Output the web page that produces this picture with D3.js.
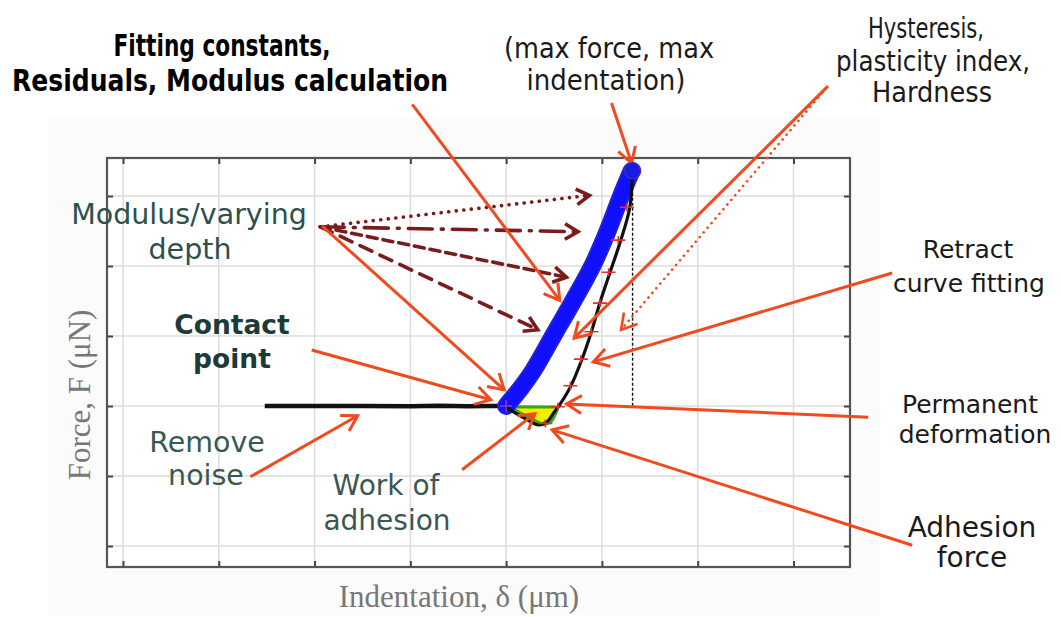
<!DOCTYPE html>
<html>
<head>
<meta charset="utf-8">
<script src="https://cdn.jsdelivr.net/npm/d3@7"></script>
<style>
  body { margin: 0; background: #fff; }
</style>
</head>
<body>
<svg id="chart" width="1061" height="617"></svg>
<script>
// axis units: one unit = one grid step (no numeric labels on the original)
const xTicks = [0, 1, 2, 3, 4, 5, 6, 7];
const yTicks = [0, 1, 2, 3, 4, 5];

// approach (noise baseline before contact)
const approachX = [1.48, 2.0, 2.5, 3.0, 3.3, 3.6, 3.8, 4.0];
const approachY = [2.0, 2.0, 2.0, 1.995, 2.005, 1.995, 2.0, 2.0];

// loading curve (blue)
const loadX = [4.0, 4.15, 4.28, 4.49, 4.70, 4.90, 5.06, 5.20, 5.31];
const loadY = [2.0, 2.25, 2.5, 3.0, 3.5, 4.0, 4.5, 5.0, 5.36];

// unloading / retract curve (black)
const retractX = [5.32, 5.29, 5.19, 5.08, 4.98, 4.89, 4.79, 4.67, 4.56, 4.49, 4.43, 4.34, 4.20, 4.06, 3.99];
const retractY = [5.36, 4.83, 4.34, 3.89, 3.48, 3.06, 2.66, 2.27, 2.02, 1.89, 1.78, 1.73, 1.82, 1.93, 1.99];

// retract fit markers (red +)
const fitX = [5.26, 5.17, 5.07, 4.98, 4.89, 4.78, 4.67, 4.54, 4.41];
const fitY = [4.84, 4.37, 3.91, 3.47, 3.06, 2.67, 2.29, 1.99, 1.75];

// work of adhesion region
const adhesionX = [4.02, 4.15, 4.30, 4.40, 4.47, 4.52, 4.54];
const adhesionY = [1.99, 1.90, 1.79, 1.74, 1.78, 1.90, 1.985];

const maxPoint = [5.32, 5.36];
const contactPoint = [4.0, 2.0];

const svg = d3.select('#chart');

const x = d3.scaleLinear().domain([-0.167, 7.59]).range([107, 850]);
const y = d3.scaleLinear().domain([-0.3, 5.543]).range([567, 158]);

// faint page panel behind the plot
svg.append('rect').attr('x', 48).attr('y', 118).attr('width', 832).attr('height', 497).attr('fill', '#fbfbfb');
svg.append('rect').attr('x', 107).attr('y', 158).attr('width', 743).attr('height', 409).attr('fill', '#fff');

// grid
const grid = svg.append('g');
grid.selectAll('.gx').data(xTicks).enter().append('line')
  .attr('x1', d => x(d)).attr('x2', d => x(d)).attr('y1', 158).attr('y2', 567)
  .attr('stroke', '#dcdcdc').attr('stroke-width', 1.5);
grid.selectAll('.gy').data(yTicks).enter().append('line')
  .attr('y1', d => y(d)).attr('y2', d => y(d)).attr('x1', 107).attr('x2', 850)
  .attr('stroke', '#dcdcdc').attr('stroke-width', 1.5);

// inward ticks on all four sides
const tickLen = -6;
const axes = [
  [d3.axisBottom(x).tickValues(xTicks), 'translate(0,567)'],
  [d3.axisTop(x).tickValues(xTicks), 'translate(0,158)'],
  [d3.axisLeft(y).tickValues(yTicks), 'translate(107,0)'],
  [d3.axisRight(y).tickValues(yTicks), 'translate(850,0)']
];
axes.forEach(([ax, tr]) => {
  const g = svg.append('g').attr('transform', tr)
    .call(ax.tickSize(tickLen).tickFormat(''));
  g.select('.domain').remove();
  g.selectAll('line').attr('stroke', '#444').attr('stroke-width', 2);
});
svg.append('rect').attr('x', 107).attr('y', 158).attr('width', 743).attr('height', 409)
  .attr('fill', 'none').attr('stroke', '#555').attr('stroke-width', 2.2);

const line = d3.line().x(d => x(d[0])).y(d => y(d[1]));
const curve = d3.line().x(d => x(d[0])).y(d => y(d[1])).curve(d3.curveCatmullRom.alpha(0.5));
const zip = (a, b) => a.map((v, i) => [v, b[i]]);

// dashed vertical from max point to contact level
svg.append('path')
  .attr('d', line([[maxPoint[0], maxPoint[1] - 0.1], [maxPoint[0], contactPoint[1]]]))
  .attr('stroke', '#111').attr('stroke-width', 1.4).attr('stroke-dasharray', '3,2').attr('fill', 'none');

// work of adhesion area
svg.append('path')
  .attr('d', curve(zip(adhesionX, adhesionY)) + 'Z')
  .attr('fill', '#f2ee00').attr('stroke', '#3aa51a').attr('stroke-width', 3)
  .attr('stroke-linejoin', 'round');

// approach
svg.append('path')
  .attr('d', line(zip(approachX, approachY)))
  .attr('stroke', '#111').attr('stroke-width', 4.5).attr('fill', 'none');

// loading curve
svg.append('path')
  .attr('d', curve(zip(loadX, loadY)))
  .attr('stroke', '#2222d8').attr('stroke-width', 18).attr('stroke-linecap', 'round')
  .attr('stroke-linejoin', 'round').attr('fill', 'none');
svg.append('path')
  .attr('d', curve(zip(loadX, loadY)))
  .attr('stroke', '#1010ff').attr('stroke-width', 14).attr('stroke-linecap', 'round')
  .attr('stroke-linejoin', 'round').attr('fill', 'none');

// retract curve
svg.append('path')
  .attr('d', curve(zip(retractX, retractY)))
  .attr('stroke', '#111').attr('stroke-width', 3.2).attr('fill', 'none');

// red + markers
svg.selectAll('.fit').data(zip(fitX, fitY)).enter().append('path')
  .attr('transform', d => `translate(${x(d[0])},${y(d[1])})`)
  .attr('d', 'M-7,0H7M0,-4V4')
  .attr('stroke', '#e0322a').attr('stroke-width', 1.6).attr('fill', 'none');
svg.append('path')
  .attr('transform', `translate(${x(contactPoint[0])},${y(contactPoint[1])})`)
  .attr('d', 'M-6,0H6M0,-6V6')
  .attr('stroke', '#9040c0').attr('stroke-width', 1.5);

// ---- annotation arrows (axis units) ----
const orange = '#f04a1e', maroon = '#7a1c1c';
const arrowsOrange = [
  [3.02, 6.31, 4.56, 3.51, null],   // fitting constants
  [5.10, 6.33, 5.31, 5.47, null],   // max force
  [7.36, 6.57, 4.71, 2.97, null],   // hysteresis
  [7.34, 6.54, 5.20, 3.09, '0.1,6'],// hysteresis dotted
  [8.03, 3.90, 4.91, 2.63, null],   // retract curve fitting
  [7.78, 1.84, 4.63, 2.03, null],   // permanent deformation
  [8.24, 0.01, 4.48, 1.66, null],   // adhesion force
  [3.54, 1.09, 4.30, 1.89, null],   // work of adhesion
  [1.33, 0.99, 2.45, 1.86, null],   // remove noise
  [1.97, 2.80, 3.84, 2.09, null],   // contact point
  [2.08, 4.57, 3.98, 2.23, null]    // modulus solid
];
const arrowsMaroon = [
  [2.06, 4.56, 4.87, 5.01, '0.1,7.5'],
  [2.06, 4.56, 4.75, 4.49, '24,9,2,9'],
  [2.06, 4.56, 4.63, 3.84, '10,6'],
  [2.06, 4.56, 4.33, 3.09, '13,9']
];

function arrow(a, color, width, head) {
  const [x1, y1, x2, y2, dash] = a;
  const X1 = x(x1), Y1 = y(y1), X2 = x(x2), Y2 = y(y2);
  const g = svg.append('g');
  g.append('line').attr('x1', X1).attr('y1', Y1).attr('x2', X2).attr('y2', Y2)
    .attr('stroke', color).attr('stroke-width', width)
    .attr('stroke-linecap', dash ? 'round' : 'butt')
    .attr('stroke-dasharray', dash || null);
  const ang = Math.atan2(Y2 - Y1, X2 - X1) * 180 / Math.PI;
  g.append('path')
    .attr('transform', `translate(${X2},${Y2}) rotate(${ang})`)
    .attr('d', `M${-head},${-head * 0.6}L0,0L${-head},${head * 0.6}`)
    .attr('stroke', color).attr('stroke-width', width).attr('fill', 'none')
    .attr('stroke-linejoin', 'miter');
}
arrowsMaroon.forEach(a => arrow(a, maroon, 3.6, 13));
arrowsOrange.forEach(a => arrow(a, orange, a[4] ? 2.6 : 3, 15));

// max point dot
svg.append('circle').attr('cx', x(maxPoint[0])).attr('cy', y(maxPoint[1])).attr('r', 8)
  .attr('fill', '#1a1ae8').attr('stroke', '#3030c0').attr('stroke-width', 1.5);

// ---- labels ----
const narrow = '"Liberation Sans Narrow", "DejaVu Sans Condensed", Arial, sans-serif';
const sans = '"DejaVu Sans", Verdana, sans-serif';
const labels = [
  ['Fitting constants,', 222, 56, 30, 'bold', '#000', narrow, 217],
  ['Residuals, Modulus calculation', 230, 91, 30, 'bold', '#000', narrow, 436],
  ['(max force, max', 609, 58, 28, 'normal', '#1a1a1a', narrow, 210],
  ['indentation)', 606, 90, 28, 'normal', '#1a1a1a', narrow, 159],
  ['Hysteresis,', 926, 38, 28, 'normal', '#1a1a1a', narrow, 116],
  ['plasticity index,', 933, 71, 28, 'normal', '#1a1a1a', narrow, 194],
  ['Hardness', 932, 102, 28, 'normal', '#1a1a1a', narrow, 120],
  ['Modulus/varying', 189, 224, 28.5, 'normal', '#2e504c', sans, null],
  ['depth', 190, 259, 28.5, 'normal', '#2e504c', sans, null],
  ['Contact', 232, 334, 26.5, 'bold', '#1c3a38', sans, null],
  ['point', 232, 368, 26.5, 'bold', '#1c3a38', sans, null],
  ['Remove', 207, 452, 28.5, 'normal', '#3a5853', sans, null],
  ['noise', 206, 485, 28.5, 'normal', '#3a5853', sans, null],
  ['Work of', 386, 495, 28, 'normal', '#3a5853', sans, null],
  ['adhesion', 387, 530, 28, 'normal', '#3a5853', sans, null],
  ['Retract', 968, 258, 25, 'normal', '#1a1a1a', sans, null],
  ['curve fitting', 969, 292, 25, 'normal', '#1a1a1a', sans, null],
  ['Permanent', 970, 413, 25, 'normal', '#1a1a1a', sans, null],
  ['deformation', 975, 443, 25, 'normal', '#1a1a1a', sans, null],
  ['Adhesion', 972, 537, 28, 'normal', '#1a1a1a', sans, null],
  ['force', 972, 567, 28, 'normal', '#1a1a1a', sans, null]
];
labels.forEach(([t, cx, by, size, weight, color, fam, len]) => {
  const el = svg.append('text').attr('x', cx).attr('y', by)
    .attr('text-anchor', 'middle').attr('font-family', fam)
    .attr('font-size', size).attr('font-weight', weight).attr('fill', color).text(t);
  if (len) el.attr('textLength', len).attr('lengthAdjust', 'spacingAndGlyphs');
});

// axis titles
const serif = '"Liberation Serif", "DejaVu Serif", serif';
svg.append('text').attr('x', 459).attr('y', 607).attr('text-anchor', 'middle')
  .attr('font-family', serif).attr('font-size', 31).attr('fill', '#777')
  .text('Indentation, δ (μm)');
svg.append('text').attr('transform', 'translate(90,395) rotate(-90)').attr('text-anchor', 'middle')
  .attr('font-family', serif).attr('font-size', 31).attr('fill', '#777')
  .text('Force, F (μN)');
</script>
</body>
</html>
